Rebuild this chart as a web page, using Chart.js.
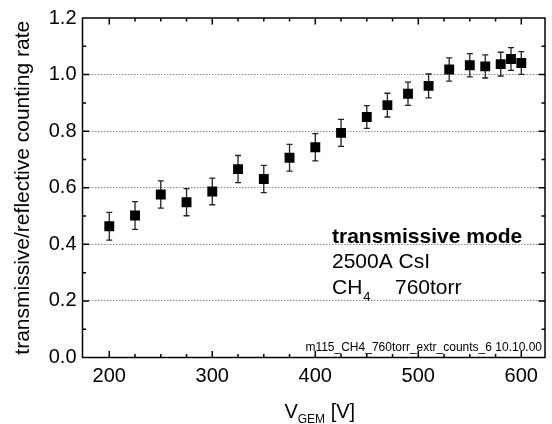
<!DOCTYPE html>
<html>
<head>
<meta charset="utf-8">
<script src="https://cdn.jsdelivr.net/npm/chart.js@4.4.0/dist/chart.umd.min.js"></script>
<style>
  html, body { margin: 0; padding: 0; background: #fff; }
  #wrap { width: 552px; height: 424px; }
</style>
</head>
<body>
<div id="wrap"><canvas id="chart" width="552" height="424"></canvas></div>
<script>
// GEM voltage [V]
const voltages = [200, 225, 250, 275, 300, 325, 350, 375, 400, 425, 450, 470, 490, 510, 530, 550, 565, 580, 590, 600];
// transmissive / reflective counting rate
const ratio = [0.464, 0.502, 0.576, 0.549, 0.587, 0.666, 0.631, 0.706, 0.743, 0.794, 0.850, 0.892, 0.932, 0.960, 1.018, 1.033, 1.029, 1.037, 1.055, 1.041];
const ratioErr = [0.049, 0.049, 0.048, 0.048, 0.047, 0.048, 0.048, 0.047, 0.048, 0.048, 0.040, 0.042, 0.041, 0.042, 0.041, 0.041, 0.041, 0.042, 0.040, 0.040];
const xTickValues = [200, 300, 400, 500, 600];
const yTickValues = [0, 0.2, 0.4, 0.6, 0.8, 1.0, 1.2];

const font = "'Liberation Sans', Arial, sans-serif";
Chart.defaults.font.family = font;
Chart.defaults.color = '#000';

// vertical error bars with caps
const errorBars = {
    id: 'errorBars',
    beforeDatasetsDraw(chart) {
        const { ctx, scales: { x, y } } = chart;
        ctx.save();
        ctx.strokeStyle = '#222';
        ctx.lineWidth = 1.3;
        ctx.beginPath();
        voltages.forEach((v, i) => {
            const px = x.getPixelForValue(v);
            const top = y.getPixelForValue(ratio[i] + ratioErr[i]);
            const bot = y.getPixelForValue(ratio[i] - ratioErr[i]);
            ctx.moveTo(px, top); ctx.lineTo(px, bot);
            ctx.moveTo(px - 3, top); ctx.lineTo(px + 3, top);
            ctx.moveTo(px - 3, bot); ctx.lineTo(px + 3, bot);
        });
        ctx.stroke();
        ctx.restore();
    }
};

// box frame with inward ticks on all four sides
const frame = {
    id: 'frame',
    afterDraw(chart) {
        const { ctx, chartArea: a, scales: { x, y } } = chart;
        ctx.save();
        ctx.strokeStyle = '#000';
        ctx.lineWidth = 1.5;
        ctx.strokeRect(a.left, a.top, a.right - a.left, a.bottom - a.top);
        ctx.beginPath();
        for (let v = 200; v <= 600; v += 25) {
            const len = v % 100 === 0 ? 6.5 : 3.5;
            const px = x.getPixelForValue(v);
            ctx.moveTo(px, a.bottom); ctx.lineTo(px, a.bottom - len);
            ctx.moveTo(px, a.top); ctx.lineTo(px, a.top + len);
        }
        for (let k = 1; k < 12; k++) {
            const len = k % 2 === 0 ? 6.5 : 3.5;
            const py = y.getPixelForValue(k / 10);
            ctx.moveTo(a.left, py); ctx.lineTo(a.left + len, py);
            ctx.moveTo(a.right, py); ctx.lineTo(a.right - len, py);
        }
        ctx.stroke();
        ctx.restore();
    }
};

// annotation texts and x axis title with subscripts
const texts = {
    id: 'texts',
    afterDraw(chart) {
        const { ctx, chartArea: a } = chart;
        ctx.save();
        ctx.fillStyle = '#000';
        ctx.textBaseline = 'alphabetic';

        ctx.textAlign = 'left';
        ctx.font = `bold 21px ${font}`;
        ctx.fillText('transmissive mode', 332, 243);
        ctx.font = `21px ${font}`;
        ctx.fillText('2500A CsI', 332, 268);
        ctx.fillText('CH', 332, 294);
        const chW = ctx.measureText('CH').width;
        ctx.font = `13px ${font}`;
        ctx.fillText('4', 332 + chW + 1, 301);
        ctx.font = `21px ${font}`;
        ctx.fillText('760torr', 395, 294);

        ctx.textAlign = 'right';
        ctx.font = `12px ${font}`;
        ctx.fillText('m115_CH4_760torr_extr_counts_6 10.10.00', a.right - 3, 351);

        // V_GEM [V]
        ctx.textAlign = 'left';
        ctx.font = `20px ${font}`;
        const wV = ctx.measureText('V').width;
        const wB = ctx.measureText(' [V]').width;
        ctx.font = `12px ${font}`;
        const wG = ctx.measureText('GEM').width;
        const total = wV + wG + wB;
        let cx = (a.left + a.right) / 2 + 6 - total / 2;
        ctx.font = `20px ${font}`;
        ctx.fillText('V', cx, 418);
        ctx.font = `12px ${font}`;
        ctx.fillText('GEM', cx + wV, 423);
        ctx.font = `20px ${font}`;
        ctx.fillText(' [V]', cx + wV + wG, 418);
        ctx.restore();
    }
};

new Chart(document.getElementById('chart'), {
    type: 'scatter',
    data: {
        datasets: [{
            data: voltages.map((v, i) => ({ x: v, y: ratio[i] })),
            pointStyle: 'rect',
            pointRadius: 7,
            pointHoverRadius: 7,
            backgroundColor: '#000',
            borderWidth: 0
        }]
    },
    options: {
        responsive: false,
        animation: false,
        events: [],
        layout: { padding: { left: 0, top: 17, right: 7, bottom: 0 } },
        plugins: { legend: { display: false }, tooltip: { enabled: false } },
        scales: {
            x: {
                type: 'linear',
                min: 174,
                max: 623,
                afterBuildTicks: (s) => { s.ticks = xTickValues.map(v => ({ value: v })); },
                afterFit: (s) => { s.height = 66.5; },
                grid: { display: false, drawTicks: false },
                border: { display: false },
                ticks: { font: { size: 20 }, color: '#000', padding: 7 }
            },
            y: {
                min: 0,
                max: 1.2,
                afterBuildTicks: (s) => { s.ticks = yTickValues.map(v => ({ value: v })); },
                afterFit: (s) => { s.width = 82.5; },
                grid: {
                    drawTicks: false,
                    lineWidth: 1,
                    color: (c) => (c.tick && c.tick.value > 0.01 && c.tick.value < 1.19) ? '#8a8a8a' : 'rgba(0,0,0,0)'
                },
                border: { display: false, dash: [1.5, 1.5] },
                ticks: {
                    font: { size: 20 },
                    color: '#000',
                    padding: 6,
                    callback: (v) => v.toFixed(1)
                },
                title: {
                    display: true,
                    text: 'transmissive/reflective counting rate',
                    font: { size: 21 },
                    color: '#000',
                    padding: { top: 11, bottom: 0 }
                }
            }
        }
    },
    plugins: [errorBars, frame, texts]
});
</script>
</body>
</html>
